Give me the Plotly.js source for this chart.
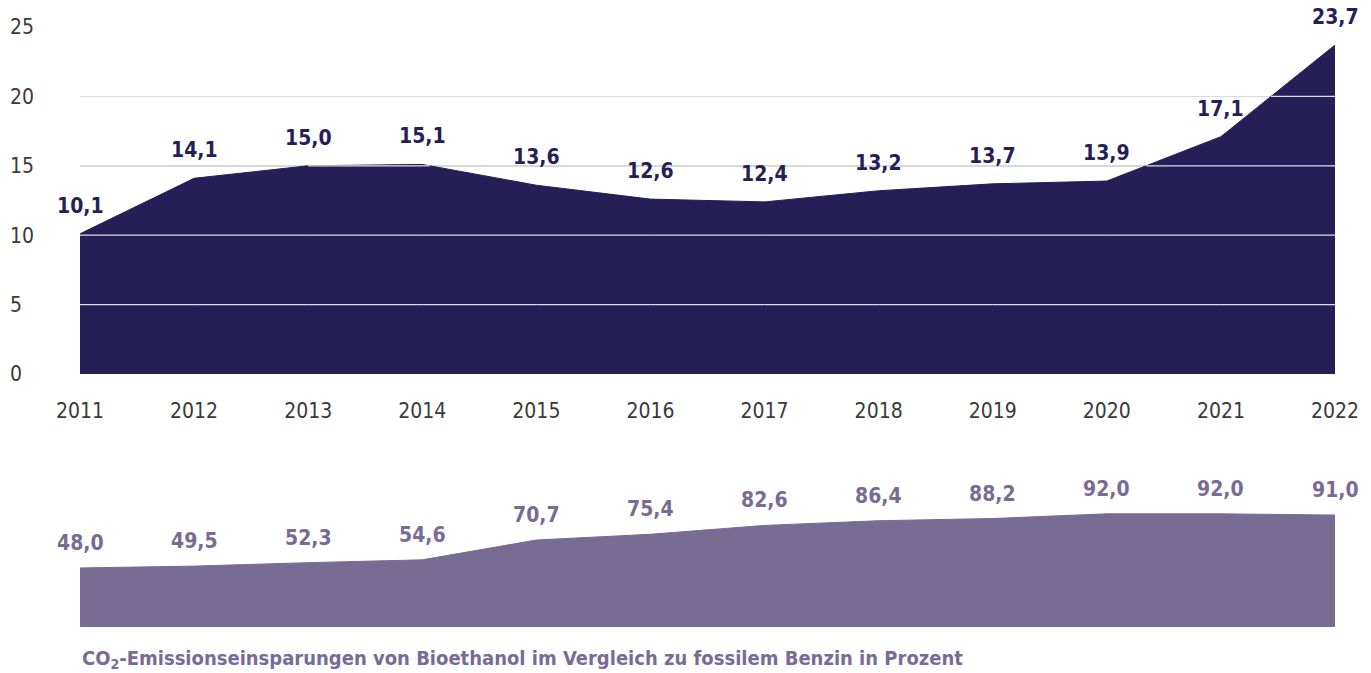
<!DOCTYPE html>
<html>
<head>
<meta charset="utf-8">
<script src="https://cdn.plot.ly/plotly-3.0.1.min.js"></script>
<style>html,body{margin:0;padding:0;background:#fff;}#chart{width:1371px;height:673px;}</style>
</head>
<body>
<div id="chart"></div>
<script>
// Data
const years = [2011, 2012, 2013, 2014, 2015, 2016, 2017, 2018, 2019, 2020, 2021, 2022];
const shareValues = [10.1, 14.1, 15.0, 15.1, 13.6, 12.6, 12.4, 13.2, 13.7, 13.9, 17.1, 23.7];
const savingsValues = [48.0, 49.5, 52.3, 54.6, 70.7, 75.4, 82.6, 86.4, 88.2, 92.0, 92.0, 91.0];
const yTicks = [0, 5, 10, 15, 20, 25];
const gridLevels = [5, 10, 15, 20, 25];
const bottomTitle = "CO<sub>2</sub>-Emissionseinsparungen von Bioethanol im Vergleich zu fossilem Benzin in Prozent";

const W = 1371, H = 673;
const FONT = "'Liberation Sans Narrow', 'Arial Narrow', 'DejaVu Sans Condensed', Roboto, sans-serif";
const NAVY = "#261e57";
const LAV = "#786b94";

const fmt = v => v.toFixed(1).replace('.', ',');

// white gridline segments where the area lies above a level
function whiteSegments(level) {
  const xs = [], ys = [];
  for (let i = 0; i < years.length - 1; i++) {
    const x0 = years[i], x1 = years[i + 1], y0 = shareValues[i], y1 = shareValues[i + 1];
    let a = null, b = null;
    if (y0 > level && y1 > level) { a = x0; b = x1; }
    else if (y0 > level || y1 > level) {
      const xi = x0 + (level - y0) / (y1 - y0) * (x1 - x0);
      if (y0 > level) { a = x0; b = xi; } else { a = xi; b = x1; }
    }
    if (a !== null) { xs.push(a, b, null); ys.push(level, level, null); }
  }
  return { xs, ys };
}

const traces = [
  {
    x: years, y: shareValues, type: 'scatter', mode: 'lines',
    fill: 'tozeroy', fillcolor: NAVY, line: { color: NAVY, width: 1 },
    xaxis: 'x', yaxis: 'y', hoverinfo: 'skip'
  },
  {
    x: years, y: savingsValues, type: 'scatter', mode: 'lines',
    fill: 'tozeroy', fillcolor: LAV, line: { color: LAV, width: 1 },
    xaxis: 'x2', yaxis: 'y2', hoverinfo: 'skip'
  }
];
gridLevels.forEach(L => {
  const s = whiteSegments(L);
  if (s.xs.length) traces.push({
    x: s.xs, y: s.ys, type: 'scatter', mode: 'lines',
    line: { color: 'rgba(255,255,255,0.85)', width: 1.2 },
    xaxis: 'x', yaxis: 'y', hoverinfo: 'skip', connectgaps: false
  });
});

const annotations = [];
years.forEach((yr, i) => {
  annotations.push({
    x: yr, y: shareValues[i], xref: 'x', yref: 'y',
    text: '<b>' + fmt(shareValues[i]) + '</b>', showarrow: false,
    yshift: 28, xanchor: 'center', yanchor: 'middle',
    font: { family: FONT, size: 21, color: NAVY }
  });
  annotations.push({
    x: yr, y: savingsValues[i], xref: 'x2', yref: 'y2',
    text: '<b>' + fmt(savingsValues[i]) + '</b>', showarrow: false,
    yshift: 25, xanchor: 'center', yanchor: 'middle',
    font: { family: FONT, size: 21, color: LAV }
  });
});
annotations.push({
  x: 80 / W, y: (H - 659) / H, xref: 'paper', yref: 'paper',
  xanchor: 'left', yanchor: 'middle', showarrow: false,
  text: '<b>' + bottomTitle + '</b>',
  font: { family: FONT, size: 20, color: LAV }
});

const xDomain = [80 / W, 1335 / W];
const layout = {
  width: W, height: H,
  margin: { l: 0, r: 0, t: 0, b: 0, pad: 0 },
  paper_bgcolor: '#fff', plot_bgcolor: 'rgba(0,0,0,0)',
  showlegend: false,
  font: { family: FONT, size: 21, color: '#3a3a3a' },
  xaxis: {
    domain: xDomain, range: [2011, 2022], anchor: 'y',
    tickvals: years, ticktext: years.map(String),
    showgrid: false, showline: false, zeroline: false, ticks: '',
    ticklabelstandoff: 22,
    tickfont: { family: FONT, size: 21, color: '#3a3a3a' }
  },
  yaxis: {
    domain: [(H - 374) / H, (H - 27) / H], range: [0, 25],
    anchor: 'free', position: 6 / W, side: 'left',
    tickvals: yTicks, ticktext: yTicks.map(String),
    ticklabelposition: 'inside', ticklabeloverflow: 'allow',
    showgrid: true, gridcolor: '#d9d9d9', gridwidth: 1.5,
    zeroline: false, showline: false, ticks: '',
    tickfont: { family: FONT, size: 21, color: '#3a3a3a' }
  },
  xaxis2: { domain: xDomain, range: [2011, 2022], anchor: 'y2', visible: false },
  yaxis2: { domain: [(H - 627) / H, (H - 504) / H], range: [0, 100], anchor: 'x2', visible: false },
  annotations: annotations
};

Plotly.newPlot('chart', traces, layout, { staticPlot: true, displayModeBar: false });
</script>
</body>
</html>
